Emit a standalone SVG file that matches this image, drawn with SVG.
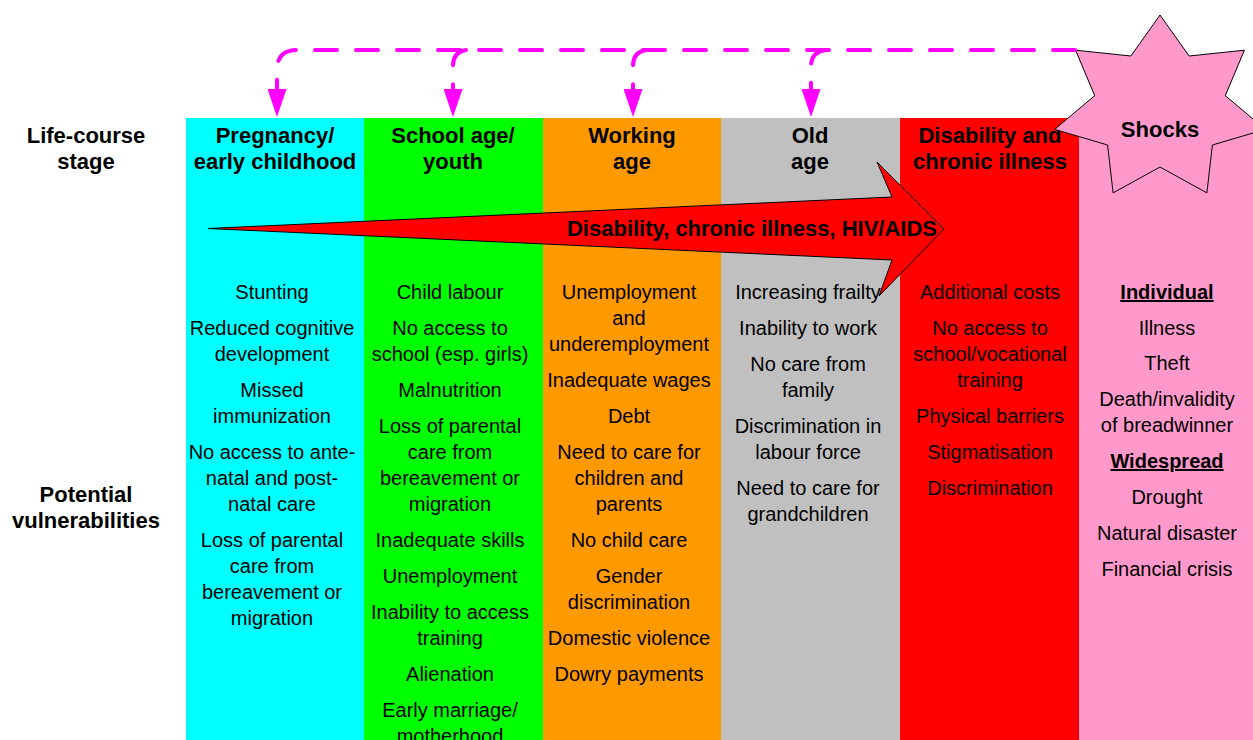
<svg xmlns="http://www.w3.org/2000/svg" width="1253" height="740" viewBox="0 0 1253 740">
<style>
.hdr{font-family:"Liberation Sans",Arial,sans-serif;font-weight:bold;font-size:22px;fill:#000;text-anchor:middle}
.item{font-family:"Liberation Sans",Arial,sans-serif;font-size:20px;fill:#000;text-anchor:middle}
.sub{font-weight:bold;text-decoration:underline}
.dash{fill:none;stroke:#FF00FF;stroke-width:4;stroke-dasharray:22 19;stroke-linecap:round}
</style>
<defs>
<marker id="ah" markerUnits="userSpaceOnUse" viewBox="0 -9.5 28 19" refX="0" refY="0" markerWidth="28" markerHeight="19" orient="auto">
<path d="M0,-9.5 L28,0 L0,9.5 Z" fill="#FF00FF"/>
</marker>
</defs>
<rect width="1253" height="740" fill="#fff"/>

<g id="labels">
<text class="hdr" x="86" y="143">Life-course</text>
<text class="hdr" x="86" y="169">stage</text>
<text class="hdr" x="86" y="502">Potential</text>
<text class="hdr" x="86" y="528">vulnerabilities</text>
</g>

<g id="col-pregnancy">
<rect x="186" y="118" width="178" height="622" fill="#00FFFF"/>
<text class="hdr" x="275" y="143">Pregnancy/</text>
<text class="hdr" x="275" y="169">early childhood</text>
<g class="item">
<text x="272" y="299">Stunting</text>
<text x="272" y="335">Reduced cognitive</text>
<text x="272" y="361">development</text>
<text x="272" y="397">Missed</text>
<text x="272" y="423">immunization</text>
<text x="272" y="459">No access to ante-</text>
<text x="272" y="485">natal and post-</text>
<text x="272" y="511">natal care</text>
<text x="272" y="547">Loss of parental</text>
<text x="272" y="573">care from</text>
<text x="272" y="599">bereavement or</text>
<text x="272" y="625">migration</text>
</g>
</g>

<g id="col-school">
<rect x="364" y="118" width="179" height="622" fill="#00FF00"/>
<text class="hdr" x="453" y="143">School age/</text>
<text class="hdr" x="453" y="169">youth</text>
<g class="item">
<text x="450" y="299">Child labour</text>
<text x="450" y="335">No access to</text>
<text x="450" y="361">school (esp. girls)</text>
<text x="450" y="397">Malnutrition</text>
<text x="450" y="433">Loss of parental</text>
<text x="450" y="459">care from</text>
<text x="450" y="485">bereavement or</text>
<text x="450" y="511">migration</text>
<text x="450" y="547">Inadequate skills</text>
<text x="450" y="583">Unemployment</text>
<text x="450" y="619">Inability to access</text>
<text x="450" y="645">training</text>
<text x="450" y="681">Alienation</text>
<text x="450" y="717">Early marriage/</text>
<text x="450" y="743">motherhood</text>
</g>
</g>

<g id="col-working">
<rect x="543" y="118" width="178" height="622" fill="#FF9900"/>
<text class="hdr" x="632" y="143">Working</text>
<text class="hdr" x="632" y="169">age</text>
<g class="item">
<text x="629" y="299">Unemployment</text>
<text x="629" y="325">and</text>
<text x="629" y="351">underemployment</text>
<text x="629" y="387">Inadequate wages</text>
<text x="629" y="423">Debt</text>
<text x="629" y="459">Need to care for</text>
<text x="629" y="485">children and</text>
<text x="629" y="511">parents</text>
<text x="629" y="547">No child care</text>
<text x="629" y="583">Gender</text>
<text x="629" y="609">discrimination</text>
<text x="629" y="645">Domestic violence</text>
<text x="629" y="681">Dowry payments</text>
</g>
</g>

<g id="col-old">
<rect x="721" y="118" width="179" height="622" fill="#C0C0C0"/>
<text class="hdr" x="810" y="143">Old</text>
<text class="hdr" x="810" y="169">age</text>
<g class="item">
<text x="808" y="299">Increasing frailty</text>
<text x="808" y="335">Inability to work</text>
<text x="808" y="371">No care from</text>
<text x="808" y="397">family</text>
<text x="808" y="433">Discrimination in</text>
<text x="808" y="459">labour force</text>
<text x="808" y="495">Need to care for</text>
<text x="808" y="521">grandchildren</text>
</g>
</g>

<g id="col-disability">
<rect x="900" y="118" width="179" height="622" fill="#FF0000"/>
<text class="hdr" x="990" y="143">Disability and</text>
<text class="hdr" x="990" y="169">chronic illness</text>
<g class="item">
<text x="990" y="299">Additional costs</text>
<text x="990" y="335">No access to</text>
<text x="990" y="361">school/vocational</text>
<text x="990" y="387">training</text>
<text x="990" y="423">Physical barriers</text>
<text x="990" y="459">Stigmatisation</text>
<text x="990" y="495">Discrimination</text>
</g>
</g>

<g id="col-shocks">
<rect x="1079" y="118" width="174" height="622" fill="#FF99CC"/>
<g class="item">
<text class="sub" x="1167" y="299">Individual</text>
<text x="1167" y="335">Illness</text>
<text x="1167" y="370">Theft</text>
<text x="1167" y="406">Death/invalidity</text>
<text x="1167" y="432">of breadwinner</text>
<text class="sub" x="1167" y="468">Widespread</text>
<text x="1167" y="504">Drought</text>
<text x="1167" y="540">Natural disaster</text>
<text x="1167" y="576">Financial crisis</text>
</g>
</g>

<g id="arrow-disability">
<polygon points="208,228.5 892,197 877,162 944,229 879,296 892,260" fill="#FF0000" stroke="#000" stroke-width="1" stroke-linejoin="miter"/>
<text class="hdr" x="752" y="236">Disability, chronic illness, HIV/AIDS</text>
</g>

<g id="shocks-star">
<polygon points="1160,15 1189.1,56 1244.4,50.2 1225.3,95.6 1265.3,129.4 1212.4,145 1206.9,192.9 1160,167 1113.1,192.9 1107.6,145 1054.7,129.4 1094.7,95.6 1075.6,50.2 1130.9,56" fill="#FF99CC" stroke="#000" stroke-width="1"/>
<text class="hdr" x="1160" y="137">Shocks</text>
</g>

<g id="connectors">
<path class="dash" d="M1075,50 L297,50 Q277,50 277,70 L277,89" marker-end="url(#ah)"/>
<path class="dash" d="M466,50 Q453,52 453,66 L453,89" marker-end="url(#ah)"/>
<path class="dash" d="M646,50 Q633,52 633,66 L633,89" marker-end="url(#ah)"/>
<path class="dash" d="M826,50 Q811,52 811,66 L811,89" marker-end="url(#ah)"/>
</g>
</svg>
